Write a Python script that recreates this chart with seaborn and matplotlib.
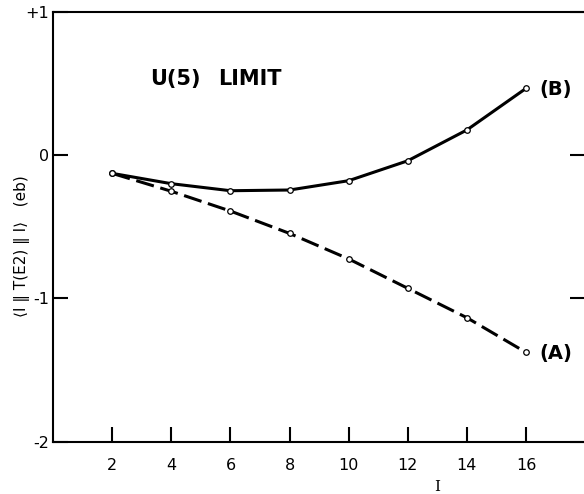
import matplotlib
matplotlib.use("Agg")
import matplotlib.pyplot as plt
import seaborn as sns
import pandas as pd

# Data
spin = [2, 4, 6, 8, 10, 12, 14, 16]
curve_b = [-0.128, -0.200, -0.249, -0.244, -0.179, -0.040, 0.175, 0.465]
curve_a = [-0.128, -0.253, -0.391, -0.547, -0.725, -0.930, -1.135, -1.377]
xticks = [2, 4, 6, 8, 10, 12, 14, 16]
yticks = [1, 0, -1, -2]
ytick_labels = ["+1", "0", "-1", "-2"]

df = pd.DataFrame({
    "I": spin * 2,
    "val": curve_b + curve_a,
    "curve": ["B"] * len(spin) + ["A"] * len(spin),
})

sns.set_style("white")
plt.rcParams["font.family"] = ["DejaVu Sans"]
plt.rcParams["text.color"] = "black"

fig = plt.figure(figsize=(5.84, 4.94), dpi=100)
ax = fig.add_axes([53.2 / 584, 52.3 / 494, 531.9 / 584, 430.0 / 494])

sns.lineplot(data=df[df.curve == "B"], x="I", y="val", ax=ax, color="black",
             linewidth=2.2, marker="o", markersize=4, markerfacecolor="white",
             markeredgecolor="black", markeredgewidth=0.9)
sns.lineplot(data=df[df.curve == "A"], x="I", y="val", ax=ax, color="black",
             linewidth=2.2, marker="o", markersize=4, markerfacecolor="white",
             markeredgecolor="black", markeredgewidth=0.9,
             dashes=False)
ax.lines[-1].set_dashes([6, 2.2])

ax.set_xlim(0, 18)
ax.set_ylim(-2, 1)
ax.set_xticks(xticks)
ax.set_xticklabels([str(t) for t in xticks])
ax.set_yticks(yticks)
ax.set_yticklabels(ytick_labels)
ax.set_xlabel("")
ax.set_ylabel("")

for s in ["left", "bottom", "top"]:
    ax.spines[s].set_visible(True)
    ax.spines[s].set_linewidth(1.5)
    ax.spines[s].set_color("black")
ax.spines["right"].set_visible(False)

ax.tick_params(axis="both", direction="in", length=11, width=1.5, color="black",
               labelsize=11.5, labelcolor="black", bottom=True, left=True)
ax.tick_params(axis="x", pad=12)
ax.tick_params(axis="y", pad=3, right=True)

fig.text(150 / 584, 1 - 79 / 494, "U(5)", fontsize=15, fontweight="bold",
         va="center", ha="left", color="black")
fig.text(218 / 584, 1 - 79 / 494, "LIMIT", fontsize=15, fontweight="bold",
         va="center", ha="left", color="black")
fig.text(539 / 584, 1 - 89 / 494, "(B)", fontsize=14, fontweight="bold",
         va="center", ha="left", color="black")
fig.text(539 / 584, 1 - 353 / 494, "(A)", fontsize=14, fontweight="bold",
         va="center", ha="left", color="black")

fig.text(22 / 584, 1 - 246 / 494, "\u27e8I \u2016 T(E2) \u2016 I\u27e9   (eb)",
         rotation=90, fontsize=11, va="center", ha="center", color="black")
fig.text(437 / 584, 1 - 480 / 494, "I", fontsize=11, family="DejaVu Serif",
         va="top", ha="center", color="black")

fig.savefig("out.png", dpi=100)
